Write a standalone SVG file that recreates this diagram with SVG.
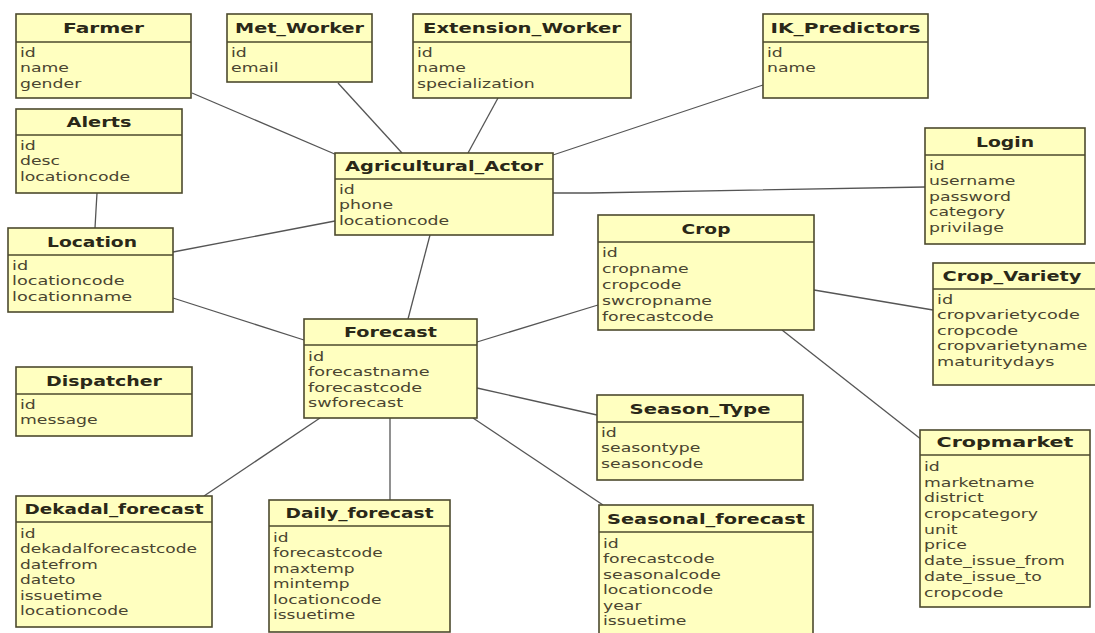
<svg xmlns="http://www.w3.org/2000/svg" width="1095" height="633" viewBox="0 0 1095 633">
  <style>
    .box { fill: #FFFFC0; stroke: #4d4a2e; stroke-width: 1.6; }
    .div { stroke: #4d4a2e; stroke-width: 1.4; }
    .title { font-family: "DejaVu Sans", Verdana, sans-serif; font-weight: bold; font-size: 14px; fill: #2a2818; text-anchor: middle; }
    .attr { font-family: "DejaVu Sans", Verdana, sans-serif; font-size: 13px; fill: #4a4530; }
    .links line, .links polyline { stroke: #555; stroke-width: 1.3; fill: none; }
  </style>

  <!-- relationship lines -->
  <g id="connectors" class="links">
    <line x1="192" y1="93" x2="337" y2="155"/>
    <line x1="338" y1="83" x2="402" y2="153"/>
    <line x1="498" y1="98" x2="468" y2="153"/>
    <line x1="553" y1="155" x2="763" y2="85"/>
    <polyline points="553,193 590,193 925,187"/>
    <polyline points="97,193 96,210 95,228"/>
    <line x1="173" y1="252" x2="335" y2="221"/>
    <line x1="173" y1="298" x2="304" y2="340"/>
    <line x1="430" y1="235" x2="408" y2="319"/>
    <line x1="477" y1="342" x2="598" y2="305"/>
    <line x1="477" y1="388" x2="597" y2="415"/>
    <line x1="320" y1="418" x2="204" y2="496"/>
    <line x1="390" y1="418" x2="390" y2="500"/>
    <line x1="473" y1="418" x2="603" y2="505"/>
    <line x1="814" y1="290" x2="933" y2="310"/>
    <line x1="782" y1="330" x2="922" y2="440"/>
  </g>

  <g id="farmer">
    <rect class="box" x="16" y="14" width="175" height="84"/>
    <line class="div" x1="16" y1="42" x2="191" y2="42"/>
    <text class="title" x="103.5" y="33" textLength="81" lengthAdjust="spacingAndGlyphs">Farmer</text>
    <text class="attr" transform="translate(20,57) scale(1.33,1)"><tspan x="0" y="0">id</tspan><tspan x="0" y="15.5">name</tspan><tspan x="0" y="31">gender</tspan></text>
  </g>

  <g id="met_worker">
    <rect class="box" x="227" y="14" width="145" height="68"/>
    <line class="div" x1="227" y1="42" x2="372" y2="42"/>
    <text class="title" x="299.5" y="33" textLength="129" lengthAdjust="spacingAndGlyphs">Met_Worker</text>
    <text class="attr" transform="translate(231,57) scale(1.33,1)"><tspan x="0" y="0">id</tspan><tspan x="0" y="15.5">email</tspan></text>
  </g>

  <g id="extension_worker">
    <rect class="box" x="413" y="14" width="218" height="84"/>
    <line class="div" x1="413" y1="42" x2="631" y2="42"/>
    <text class="title" x="522" y="33" textLength="198" lengthAdjust="spacingAndGlyphs">Extension_Worker</text>
    <text class="attr" transform="translate(417,57) scale(1.33,1)"><tspan x="0" y="0">id</tspan><tspan x="0" y="15.5">name</tspan><tspan x="0" y="31">specialization</tspan></text>
  </g>

  <g id="ik_predictors">
    <rect class="box" x="763" y="14" width="165" height="84"/>
    <line class="div" x1="763" y1="42" x2="928" y2="42"/>
    <text class="title" x="845.5" y="33" textLength="150" lengthAdjust="spacingAndGlyphs">IK_Predictors</text>
    <text class="attr" transform="translate(767,57) scale(1.33,1)"><tspan x="0" y="0">id</tspan><tspan x="0" y="15.5">name</tspan></text>
  </g>

  <g id="alerts">
    <rect class="box" x="16" y="109" width="166" height="84"/>
    <line class="div" x1="16" y1="135" x2="182" y2="135"/>
    <text class="title" x="99" y="127" textLength="65" lengthAdjust="spacingAndGlyphs">Alerts</text>
    <text class="attr" transform="translate(20,150) scale(1.33,1)"><tspan x="0" y="0">id</tspan><tspan x="0" y="15.5">desc</tspan><tspan x="0" y="31">locationcode</tspan></text>
  </g>

  <g id="agricultural_actor">
    <rect class="box" x="335" y="153" width="218" height="82"/>
    <line class="div" x1="335" y1="179" x2="553" y2="179"/>
    <text class="title" x="444" y="171" textLength="198" lengthAdjust="spacingAndGlyphs">Agricultural_Actor</text>
    <text class="attr" transform="translate(339,194) scale(1.33,1)"><tspan x="0" y="0">id</tspan><tspan x="0" y="15.5">phone</tspan><tspan x="0" y="31">locationcode</tspan></text>
  </g>

  <g id="login">
    <rect class="box" x="925" y="128" width="160" height="116"/>
    <line class="div" x1="925" y1="155" x2="1085" y2="155"/>
    <text class="title" x="1005" y="147" textLength="58" lengthAdjust="spacingAndGlyphs">Login</text>
    <text class="attr" transform="translate(929,170) scale(1.33,1)"><tspan x="0" y="0">id</tspan><tspan x="0" y="15.5">username</tspan><tspan x="0" y="31">password</tspan><tspan x="0" y="46.5">category</tspan><tspan x="0" y="62">privilage</tspan></text>
  </g>

  <g id="location">
    <rect class="box" x="8" y="228" width="165" height="84"/>
    <line class="div" x1="8" y1="255" x2="173" y2="255"/>
    <text class="title" x="92" y="247" textLength="90" lengthAdjust="spacingAndGlyphs">Location</text>
    <text class="attr" transform="translate(12,270) scale(1.36,1)"><tspan x="0" y="0">id</tspan><tspan x="0" y="15.5">locationcode</tspan><tspan x="0" y="31">locationname</tspan></text>
  </g>

  <g id="crop">
    <rect class="box" x="598" y="215" width="216" height="115"/>
    <line class="div" x1="598" y1="242" x2="814" y2="242"/>
    <text class="title" x="706" y="234" textLength="49" lengthAdjust="spacingAndGlyphs">Crop</text>
    <text class="attr" transform="translate(602,257) scale(1.33,1)"><tspan x="0" y="0">id</tspan><tspan x="0" y="16">cropname</tspan><tspan x="0" y="32">cropcode</tspan><tspan x="0" y="48">swcropname</tspan><tspan x="0" y="64">forecastcode</tspan></text>
  </g>

  <g id="crop_variety">
    <rect class="box" x="933" y="263" width="175" height="122"/>
    <line class="div" x1="933" y1="289" x2="1108" y2="289"/>
    <text class="title" x="1012" y="281" textLength="139" lengthAdjust="spacingAndGlyphs">Crop_Variety</text>
    <text class="attr" transform="translate(937,304) scale(1.36,1)"><tspan x="0" y="0">id</tspan><tspan x="0" y="15.5">cropvarietycode</tspan><tspan x="0" y="31">cropcode</tspan><tspan x="0" y="46.5">cropvarietyname</tspan><tspan x="0" y="62">maturitydays</tspan></text>
  </g>

  <g id="forecast">
    <rect class="box" x="304" y="319" width="173" height="99"/>
    <line class="div" x1="304" y1="345" x2="477" y2="345"/>
    <text class="title" x="390.5" y="337" textLength="93" lengthAdjust="spacingAndGlyphs">Forecast</text>
    <text class="attr" transform="translate(308,361) scale(1.36,1)"><tspan x="0" y="0">id</tspan><tspan x="0" y="15.5">forecastname</tspan><tspan x="0" y="31">forecastcode</tspan><tspan x="0" y="46.5">swforecast</tspan></text>
  </g>

  <g id="dispatcher">
    <rect class="box" x="16" y="367" width="176" height="69"/>
    <line class="div" x1="16" y1="394" x2="192" y2="394"/>
    <text class="title" x="104" y="386" textLength="116" lengthAdjust="spacingAndGlyphs">Dispatcher</text>
    <text class="attr" transform="translate(20,409) scale(1.33,1)"><tspan x="0" y="0">id</tspan><tspan x="0" y="15.5">message</tspan></text>
  </g>

  <g id="season_type">
    <rect class="box" x="597" y="395" width="206" height="85"/>
    <line class="div" x1="597" y1="422" x2="803" y2="422"/>
    <text class="title" x="700" y="414" textLength="141" lengthAdjust="spacingAndGlyphs">Season_Type</text>
    <text class="attr" transform="translate(601,437) scale(1.33,1)"><tspan x="0" y="0">id</tspan><tspan x="0" y="15.5">seasontype</tspan><tspan x="0" y="31">seasoncode</tspan></text>
  </g>

  <g id="cropmarket">
    <rect class="box" x="920" y="430" width="170" height="177"/>
    <line class="div" x1="920" y1="455" x2="1090" y2="455"/>
    <text class="title" x="1005" y="447" textLength="137" lengthAdjust="spacingAndGlyphs">Cropmarket</text>
    <text class="attr" transform="translate(924,471) scale(1.33,1)"><tspan x="0" y="0">id</tspan><tspan x="0" y="15.7">marketname</tspan><tspan x="0" y="31.4">district</tspan><tspan x="0" y="47.1">cropcategory</tspan><tspan x="0" y="62.8">unit</tspan><tspan x="0" y="78.5">price</tspan><tspan x="0" y="94.2">date_issue_from</tspan><tspan x="0" y="109.9">date_issue_to</tspan><tspan x="0" y="125.6">cropcode</tspan></text>
  </g>

  <g id="dekadal_forecast">
    <rect class="box" x="16" y="496" width="196" height="131"/>
    <line class="div" x1="16" y1="522" x2="212" y2="522"/>
    <text class="title" x="114" y="514" textLength="179" lengthAdjust="spacingAndGlyphs">Dekadal_forecast</text>
    <text class="attr" transform="translate(20,538) scale(1.31,1)"><tspan x="0" y="0">id</tspan><tspan x="0" y="15.5">dekadalforecastcode</tspan><tspan x="0" y="31">datefrom</tspan><tspan x="0" y="46.5">dateto</tspan><tspan x="0" y="62">issuetime</tspan><tspan x="0" y="77.5">locationcode</tspan></text>
  </g>

  <g id="daily_forecast">
    <rect class="box" x="269" y="500" width="181" height="132"/>
    <line class="div" x1="269" y1="526" x2="450" y2="526"/>
    <text class="title" x="359.5" y="518" textLength="148" lengthAdjust="spacingAndGlyphs">Daily_forecast</text>
    <text class="attr" transform="translate(273,542) scale(1.31,1)"><tspan x="0" y="0">id</tspan><tspan x="0" y="15.5">forecastcode</tspan><tspan x="0" y="31">maxtemp</tspan><tspan x="0" y="46.5">mintemp</tspan><tspan x="0" y="62">locationcode</tspan><tspan x="0" y="77.5">issuetime</tspan></text>
  </g>

  <g id="seasonal_forecast">
    <rect class="box" x="599" y="505" width="214" height="135"/>
    <line class="div" x1="599" y1="532" x2="813" y2="532"/>
    <text class="title" x="706" y="524" textLength="198" lengthAdjust="spacingAndGlyphs">Seasonal_forecast</text>
    <text class="attr" transform="translate(603,548) scale(1.33,1)"><tspan x="0" y="0">id</tspan><tspan x="0" y="15.5">forecastcode</tspan><tspan x="0" y="31">seasonalcode</tspan><tspan x="0" y="46.5">locationcode</tspan><tspan x="0" y="62">year</tspan><tspan x="0" y="77.5">issuetime</tspan></text>
  </g>
</svg>
